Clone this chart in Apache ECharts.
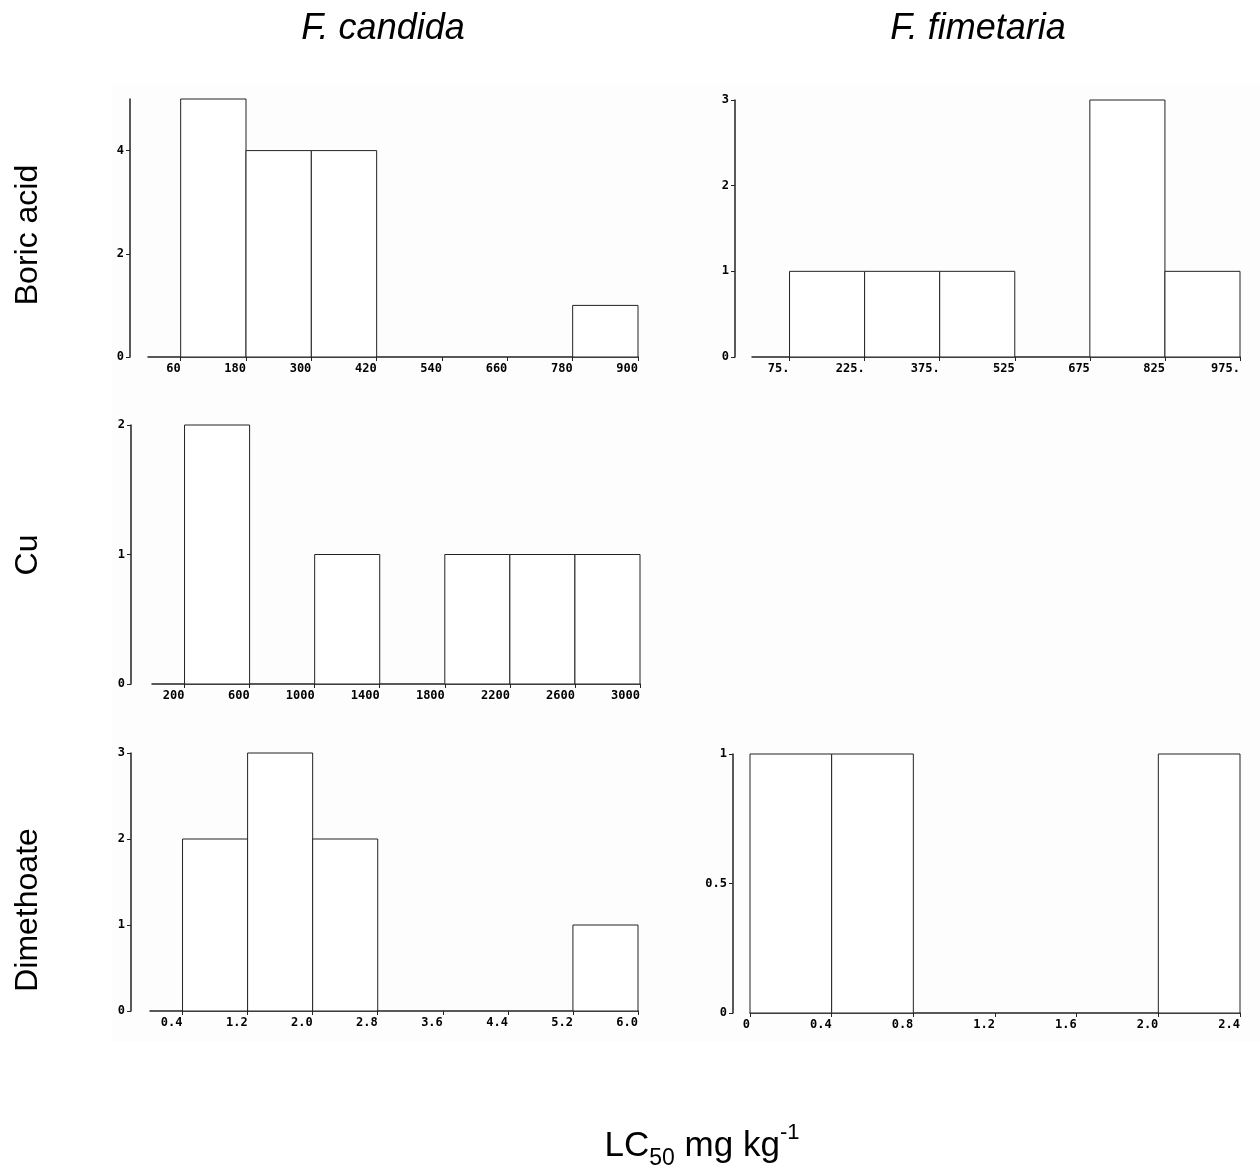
<!DOCTYPE html>
<html>
<head>
<meta charset="utf-8">
<script src="https://cdn.jsdelivr.net/npm/echarts@6/dist/echarts.min.js"></script>
<style>
  html, body { margin: 0; padding: 0; background: #fff; }
  #main { width: 1260px; height: 1174px; }
</style>
</head>
<body>
<div id="main"></div>
<script>
// bin edges and counts
var boricCandidaEdges = [60, 180, 300, 420, 540, 660, 780, 900];
var boricCandidaCounts = [5, 4, 4, 0, 0, 0, 1];

var boricFimetariaEdges = [75, 225, 375, 525, 675, 825, 975];
var boricFimetariaCounts = [1, 1, 1, 0, 3, 1];
var boricFimetariaLabels = ['75.', '225.', '375.', '525', '675', '825', '975.'];

var cuCandidaEdges = [200, 600, 1000, 1400, 1800, 2200, 2600, 3000];
var cuCandidaCounts = [2, 0, 1, 0, 1, 1, 1];

var dimCandidaEdges = [0.4, 1.2, 2.0, 2.8, 3.6, 4.4, 5.2, 6.0];
var dimCandidaCounts = [2, 3, 2, 0, 0, 0, 1];

var dimFimetariaEdges = [0, 0.4, 0.8, 1.2, 1.6, 2.0, 2.4];
var dimFimetariaCounts = [1, 1, 0, 0, 0, 1];

var rowNames = ['Boric acid', 'Cu', 'Dimethoate'];
var colNames = ['F. candida', 'F. fimetaria'];

var tickFont = { fontFamily: 'DejaVu Sans Mono', fontWeight: 'bold', fontSize: 12, color: '#000' };
var lineCol = '#222';

function binData(edges, counts) {
  var out = [];
  for (var i = 0; i < counts.length; i++) {
    out.push([edges[i], edges[i + 1], counts[i]]);
  }
  return out;
}

function renderBin(params, api) {
  var cnt = api.value(2);
  if (!cnt) return;
  var p1 = api.coord([api.value(0), cnt]);
  var p2 = api.coord([api.value(1), 0]);
  return {
    type: 'rect',
    shape: { x: p1[0], y: p1[1], width: p2[0] - p1[0], height: p2[1] - p1[1] },
    style: { fill: '#fff', stroke: lineCol, lineWidth: 1 }
  };
}

// panels: grid box in px, x max, y max, y ticks, bins, label formatter
var panels = [
  { left: 148, top: 99, width: 490, height: 258, yOff: 18, xMax: 900, yMax: 5, yTicks: [0, 2, 4],
    edges: boricCandidaEdges, counts: boricCandidaCounts, fmt: function (v) { return String(v); } },
  { left: 752, top: 100, width: 488, height: 257, yOff: 17, xMax: 975, yMax: 3, yTicks: [0, 1, 2, 3],
    edges: boricFimetariaEdges, counts: boricFimetariaCounts,
    fmt: function (v) { return boricFimetariaLabels[boricFimetariaEdges.indexOf(v)]; } },
  { left: 152, top: 425, width: 488, height: 259, yOff: 21, xMax: 3000, yMax: 2, yTicks: [0, 1, 2],
    edges: cuCandidaEdges, counts: cuCandidaCounts, fmt: function (v) { return String(v); } },
  { left: 150, top: 753, width: 488, height: 258, yOff: 19, xMax: 6, yMax: 3, yTicks: [0, 1, 2, 3],
    edges: dimCandidaEdges, counts: dimCandidaCounts, fmt: function (v) { return v.toFixed(1); } },
  { left: 750, top: 754, width: 490, height: 259, yOff: 17, xMax: 2.4, yMax: 1, yTicks: [0, 0.5, 1],
    edges: dimFimetariaEdges, counts: dimFimetariaCounts,
    fmt: function (v) { return v === 0 ? '0' : v.toFixed(1); } }
];

var grids = [], xAxes = [], yAxes = [], series = [];
panels.forEach(function (p, i) {
  grids.push({ left: p.left, top: p.top, width: p.width, height: p.height });
  xAxes.push({
    type: 'value', gridIndex: i, min: 0, max: p.xMax,
    splitLine: { show: false },
    axisLine: { show: true, onZero: false, lineStyle: { color: lineCol, width: 1.5 } },
    axisTick: { show: true, length: 4, customValues: p.edges, lineStyle: { color: lineCol } },
    axisLabel: Object.assign({ customValues: p.edges, formatter: p.fmt, margin: 6,
      align: 'right', padding: [0, 0, 0, 0] }, tickFont)
  });
  yAxes.push({
    type: 'value', gridIndex: i, min: 0, max: p.yMax, offset: p.yOff,
    splitLine: { show: false },
    axisLine: { show: true, onZero: false, lineStyle: { color: lineCol, width: 1.5 } },
    axisTick: { show: true, length: 4, customValues: p.yTicks, lineStyle: { color: lineCol } },
    axisLabel: Object.assign({ customValues: p.yTicks, margin: 6 }, tickFont)
  });
  series.push({
    type: 'custom', xAxisIndex: i, yAxisIndex: i, silent: true,
    renderItem: renderBin, data: binData(p.edges, p.counts)
  });
});

var textFont = 'Liberation Sans, Arial, sans-serif';
var graphics = [
  { type: 'rect', z: -10, shape: { x: 112, y: 84, width: 1148, height: 958 }, style: { fill: '#fdfdfd' } },
  { type: 'text', x: 383, y: 29, style: { text: colNames[0], font: 'italic 36px ' + textFont, fill: '#000', align: 'center', verticalAlign: 'middle' } },
  { type: 'text', x: 978, y: 29, style: { text: colNames[1], font: 'italic 36px ' + textFont, fill: '#000', align: 'center', verticalAlign: 'middle' } },
  { type: 'text', x: 28, y: 235, rotation: Math.PI / 2, style: { text: rowNames[0], font: '32px ' + textFont, fill: '#000', align: 'center', verticalAlign: 'middle' } },
  { type: 'text', x: 28, y: 555, rotation: Math.PI / 2, style: { text: rowNames[1], font: '32px ' + textFont, fill: '#000', align: 'center', verticalAlign: 'middle' } },
  { type: 'text', x: 28, y: 910, rotation: Math.PI / 2, style: { text: rowNames[2], font: '32px ' + textFont, fill: '#000', align: 'center', verticalAlign: 'middle' } },
  { type: 'text', x: 702, y: 1146, style: {
      text: '{a|LC}{s|50}{a| mg kg}{p|-1}', align: 'center', verticalAlign: 'middle',
      rich: {
        a: { fontFamily: textFont, fontSize: 35, color: '#000', lineHeight: 48, verticalAlign: 'middle' },
        s: { fontFamily: textFont, fontSize: 23, color: '#000', lineHeight: 48, verticalAlign: 'bottom' },
        p: { fontFamily: textFont, fontSize: 22, color: '#000', lineHeight: 48, verticalAlign: 'top' }
      } } }
];

var chart = echarts.init(document.getElementById('main'), null, { renderer: 'canvas' });
chart.setOption({
  animation: false,
  backgroundColor: '#fff',
  grid: grids,
  xAxis: xAxes,
  yAxis: yAxes,
  series: series,
  graphic: graphics
});
</script>
</body>
</html>
